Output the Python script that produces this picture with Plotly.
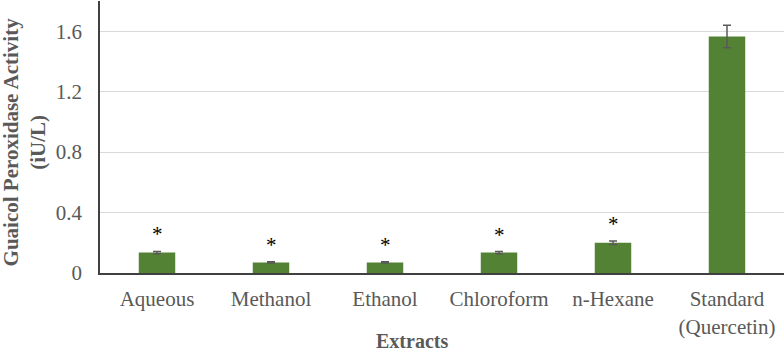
import plotly.graph_objects as go

categories = ["Aqueous", "Methanol", "Ethanol", "Chloroform", "n-Hexane", "Standard<br>(Quercetin)"]
values = [0.135, 0.07, 0.07, 0.135, 0.2, 1.565]
errors = [0.008, 0.004, 0.004, 0.007, 0.012, 0.075]
marks = ["*", "*", "*", "*", "*", ""]

green = "#548235"
font = "Liberation Serif, Times New Roman, serif"

fig = go.Figure()
fig.add_trace(go.Bar(
    x=categories, y=values,
    marker=dict(color=green, line=dict(width=0)),
    error_y=dict(type="data", array=errors, visible=True, color="#595959", thickness=1.5, width=4),
    width=0.32,
))

for c, v, e, m in zip(categories, values, errors, marks):
    if m:
        fig.add_annotation(x=c, y=v + e, text=m, showarrow=False, yanchor="bottom",
                           yshift=3, font=dict(family=font, size=21, color="black"))

fig.add_annotation(xref="paper", yref="paper", x=0.456, y=0, yshift=-68, text="<b>Extracts</b>",
                   showarrow=False, xanchor="center", yanchor="middle",
                   font=dict(family=font, size=20, color="#595959"))
fig.add_annotation(xref="paper", yref="paper", x=0, xshift=-76, y=0.48,
                   text="<b>Guaicol Peroxidase Activity<br>(iU/L)</b>", textangle=-90,
                   showarrow=False, xanchor="center", yanchor="middle",
                   font=dict(family=font, size=21, color="#595959"))

fig.update_layout(
    width=784, height=352,
    margin=dict(l=100, r=0, t=1, b=79),
    paper_bgcolor="white", plot_bgcolor="white",
    showlegend=False,
    font=dict(family=font, size=21, color="#595959"),
    xaxis=dict(
        showline=True, linecolor="#404040", linewidth=2, ticks="",
        tickfont=dict(family=font, size=21, color="#595959"),
        ticklabelstandoff=6,
    ),
    yaxis=dict(
        range=[0, 1.8], tickvals=[0, 0.4, 0.8, 1.2, 1.6], ticktext=["0", "0.4", "0.8", "1.2", "1.6"],
        showgrid=True, gridcolor="#d9d9d9", gridwidth=1,
        showline=True, linecolor="#404040", linewidth=1.5, ticks="",
        zeroline=False,
        tickfont=dict(family=font, size=21, color="#595959"),
        ticklabelstandoff=12,
    ),
)

fig.write_html("out.html", config={"displayModeBar": False},
               post_script="document.body.style.margin='0';")
